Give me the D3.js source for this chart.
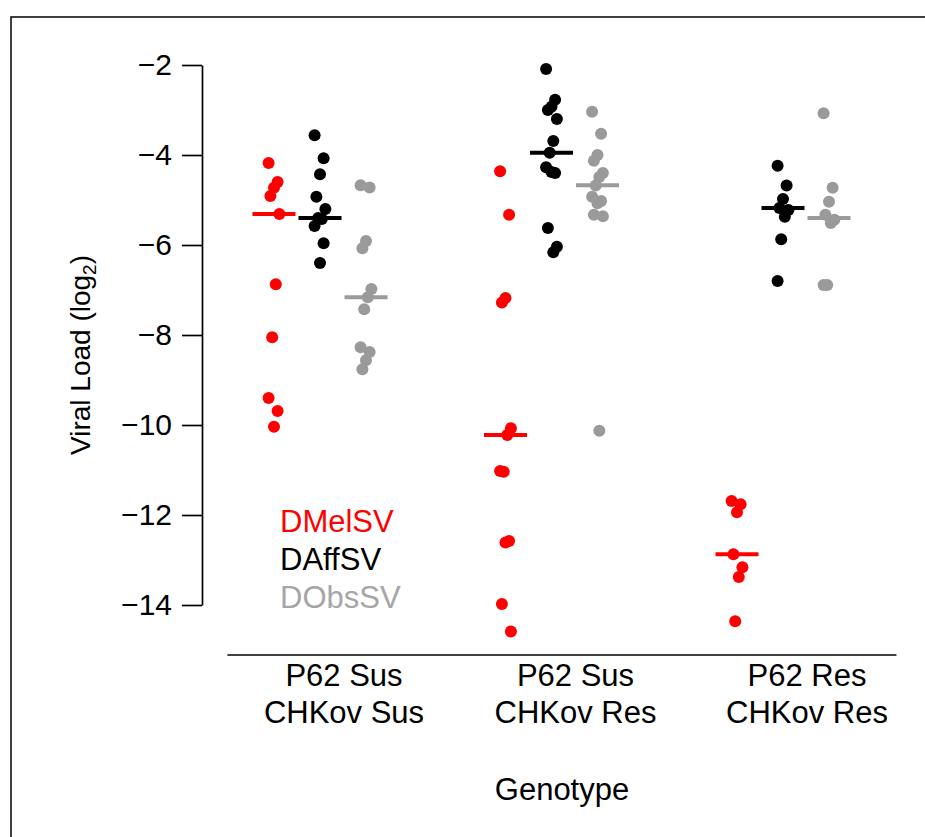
<!DOCTYPE html>
<html>
<head>
<meta charset="utf-8">
<script src="https://cdn.jsdelivr.net/npm/d3@7"></script>
<style>
  body { margin: 0; background: #fff; }
  text { font-family: "Liberation Sans", Arial, sans-serif; }
</style>
</head>
<body>
<svg id="chart" width="925" height="837"></svg>
<script>
let svg = d3.select("#chart");

// genotype groups (two-line labels)
let group_line1 = ["P62 Sus", "P62 Sus", "P62 Res"];
let group_line2 = ["CHKov Sus", "CHKov Res", "CHKov Res"];

let series_names = ["DMelSV", "DAffSV", "DObsSV"];
let series_colors = ["#ff0000", "#000000", "#9a9a9a"];

// viral load per fly, log2, one list per genotype group
let dmelsv = [
  [-4.18, -4.6, -4.73, -4.91, -5.31, -6.87, -8.05, -9.4, -9.69, -10.04],
  [-4.36, -5.33, -7.18, -7.28, -10.07, -10.22, -11.04, -11.02, -12.58, -12.61, -13.98, -14.59],
  [-11.69, -11.76, -11.94, -12.87, -13.16, -13.38, -14.36]
];
let daffsv = [
  [-3.56, -4.07, -4.43, -4.93, -5.2, -5.42, -5.4, -5.58, -5.96, -6.4],
  [-2.09, -2.77, -2.93, -3.0, -3.2, -3.69, -3.95, -4.27, -4.4, -4.38, -5.62, -6.04, -6.16],
  [-4.24, -4.68, -4.98, -5.18, -5.22, -5.37, -5.87, -6.8]
];
let dobssv = [
  [-4.67, -4.72, -5.91, -6.07, -6.98, -7.16, -7.43, -8.27, -8.38, -8.56, -8.76],
  [-3.04, -3.53, -4.0, -4.13, -4.4, -4.49, -4.68, -4.93, -5.02, -5.07, -5.33, -5.36, -10.13],
  [-3.07, -4.73, -5.04, -5.33, -5.44, -5.51, -6.89, -6.89]
];
// centre lines as drawn in the figure
let centre_values = [
  [-5.31, -10.22, -12.87],
  [-5.4, -3.95, -5.18],
  [-7.16, -4.67, -5.4]
];
let y_ticks = [-2, -4, -6, -8, -10, -12, -14];

let all_series = [dmelsv, daffsv, dobssv];

let font_size = 31;

let y_scale = d3.scaleLinear()
  .domain([-2, -14])
  .range([65, 605]);
let group_scale = d3.scaleLinear()
  .domain([0, 2])
  .range([320, 783]);
let series_scale = d3.scaleLinear()
  .domain([-1, 1])
  .range([-46, 46]);

let series_x = (g, s) => group_scale(g) + series_scale(s - 1);
// small fixed jitter so overlapping flies stay visible
let jitter = (i) => ((i * 5) % 7 - 3) * 1.8;

// outer frame
svg.append("rect")
  .attr("x", 11)
  .attr("y", 17)
  .attr("width", 1000)
  .attr("height", 1000)
  .attr("fill", "none")
  .attr("stroke", "black")
  .attr("stroke-width", 1.5);

// y axis
let y_axis = svg.append("g")
  .attr("transform", "translate(202,0)")
  .call(d3.axisLeft(y_scale)
    .tickValues(y_ticks)
    .tickSize(20)
    .tickSizeOuter(0)
    .tickPadding(10));
y_axis.selectAll("path, line")
  .attr("stroke", "black")
  .attr("stroke-width", 1.7);
y_axis.selectAll("text")
  .attr("font-size", 30)
  .attr("font-family", "Liberation Sans, Arial, sans-serif")
  .attr("fill", "black");

// y label
let y_label = svg.append("text")
  .attr("transform", "translate(90,355) rotate(-90)")
  .attr("text-anchor", "middle")
  .attr("font-size", 28)
  .attr("fill", "black");
y_label.append("tspan").text("Viral Load (log");
y_label.append("tspan").attr("font-size", 19).attr("dy", 6).text("2");
y_label.append("tspan").attr("dy", -6).text(")");

// x axis line
svg.append("line")
  .attr("x1", group_scale(-0.4))
  .attr("x2", group_scale(2.49))
  .attr("y1", 655)
  .attr("y2", 655)
  .attr("stroke", "black")
  .attr("stroke-width", 1.7);

let group_labels = svg.append("g")
  .selectAll("g")
  .data(group_line1)
  .enter().append("g")
    .attr("transform", (d, i) => "translate(" + (group_scale(i) + 24) + ",0)");
group_labels.append("text")
  .attr("y", 686)
  .attr("text-anchor", "middle")
  .attr("font-size", font_size)
  .text((d) => d);
group_labels.append("text")
  .attr("y", 723)
  .attr("text-anchor", "middle")
  .attr("font-size", font_size)
  .text((d, i) => group_line2[i]);

svg.append("text")
  .attr("x", 562)
  .attr("y", 800)
  .attr("text-anchor", "middle")
  .attr("font-size", font_size)
  .text("Genotype");

// dots and centre lines
let plot = svg.append("g");
all_series.forEach(function(series, s) {
  series.forEach(function(values, g) {
    plot.append("line")
      .attr("x1", series_x(g, s) - 21.5)
      .attr("x2", series_x(g, s) + 21.5)
      .attr("y1", y_scale(centre_values[s][g]))
      .attr("y2", y_scale(centre_values[s][g]))
      .attr("stroke", series_colors[s])
      .attr("stroke-width", 4);
    plot.selectAll(null)
      .data(values)
      .enter().append("circle")
        .attr("cx", (d, i) => series_x(g, s) + jitter(i))
        .attr("cy", (d) => y_scale(d))
        .attr("r", 6)
        .attr("fill", series_colors[s]);
  });
});

// legend
svg.append("g")
  .selectAll("text")
  .data(series_names)
  .enter().append("text")
    .attr("x", 280)
    .attr("y", (d, i) => 532 + i * 38)
    .attr("font-size", font_size)
    .attr("fill", (d, i) => i == 2 ? "#a6a6a6" : series_colors[i])
    .text((d) => d);
</script>
</body>
</html>
